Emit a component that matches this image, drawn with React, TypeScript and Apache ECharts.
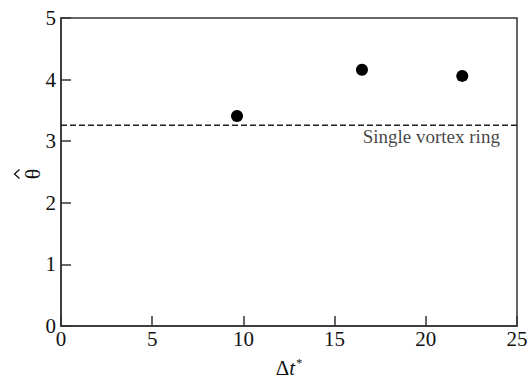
import React, { useEffect, useRef } from "react";
import * as echarts from "echarts";

const xValues = [9.65, 16.5, 22.0];
const yValues = [3.41, 4.16, 4.06];
const referenceValue = 3.26;
const referenceLabel = "Single vortex ring";
const xTicks = [0, 5, 10, 15, 20, 25];
const yTicks = [0, 1, 2, 3, 4, 5];

const FONT = "'Liberation Serif', 'Times New Roman', serif";

export default function App() {
  const ref = useRef<HTMLDivElement>(null);
  useEffect(() => {
    if (!ref.current) return;
    const chart = echarts.init(ref.current, null, { renderer: "svg" });
    const points = xValues.map((x, i) => [x, yValues[i]]);
    const refLine = [
      [xTicks[0], referenceValue],
      [xTicks[xTicks.length - 1], referenceValue],
    ];
    chart.setOption({
      animation: false,
      backgroundColor: "#fff",
      grid: {
        left: 61,
        right: 15,
        top: 18,
        bottom: 52,
        show: true,
        borderColor: "#333",
        borderWidth: 1.5,
        backgroundColor: "transparent",
      },
      xAxis: {
        type: "value",
        min: xTicks[0],
        max: xTicks[xTicks.length - 1],
        interval: 5,
        name: "{a|Δ}{i|t}{s|*}",
        nameLocation: "middle",
        nameGap: 31,
        nameTextStyle: {
          rich: {
            a: { fontFamily: FONT, fontSize: 21, color: "#111" },
            i: { fontFamily: FONT, fontSize: 21, fontStyle: "italic", color: "#111" },
            s: { fontFamily: FONT, fontSize: 12, color: "#111", verticalAlign: "top", padding: [0, 0, 9, 1] },
          },
        },
        axisLine: { show: true, lineStyle: { color: "#333", width: 1.5 } },
        axisTick: { show: true, inside: true, length: 10, lineStyle: { color: "#333", width: 1.5 } },
        axisLabel: { fontFamily: FONT, fontSize: 21, color: "#111", margin: 2 },
        splitLine: { show: false },
      },
      yAxis: {
        type: "value",
        min: yTicks[0],
        max: yTicks[yTicks.length - 1],
        interval: 1,
        name: "",
        axisLine: { show: true, lineStyle: { color: "#333", width: 1.5 } },
        axisTick: { show: true, inside: true, length: 10, lineStyle: { color: "#333", width: 1.5 } },
        axisLabel: { fontFamily: FONT, fontSize: 21, color: "#111", margin: 5 },
        splitLine: { show: false },
      },
      graphic: [
        {
          type: "group",
          x: 32,
          y: 174,
          rotation: Math.PI / 2,
          children: [
            {
              type: "text",
              x: 0,
              y: 0,
              style: {
                text: "θ",
                fontFamily: FONT,
                fontSize: 22,
                fill: "#111",
                align: "center",
                verticalAlign: "middle",
              },
            },
            {
              type: "polyline",
              shape: { points: [[-4.5, -12.5], [0, -17.5], [4.5, -12.5]] },
              style: { stroke: "#111", lineWidth: 1.3, fill: "none" },
            },
          ],
        },
      ],
      series: [
        {
          type: "line",
          data: refLine,
          symbol: "none",
          lineStyle: { color: "#222", width: 1.5, type: [6, 3] },
          silent: true,
          z: 1,
        },
        {
          type: "scatter",
          data: points,
          symbol: "circle",
          symbolSize: 12,
          itemStyle: { color: "#000", opacity: 1 },
          z: 3,
        },
        {
          type: "scatter",
          data: [[20.3, referenceValue]],
          symbolSize: 0,
          silent: true,
          label: {
            show: true,
            position: "bottom",
            distance: 2,
            formatter: referenceLabel,
            fontFamily: FONT,
            fontSize: 19,
            color: "#111",
          },
        },
      ],
    });
    return () => chart.dispose();
  }, []);
  return (
    <div
      ref={ref}
      style={{ position: "fixed", left: 0, top: 0, width: 532, height: 383 }}
    />
  );
}
